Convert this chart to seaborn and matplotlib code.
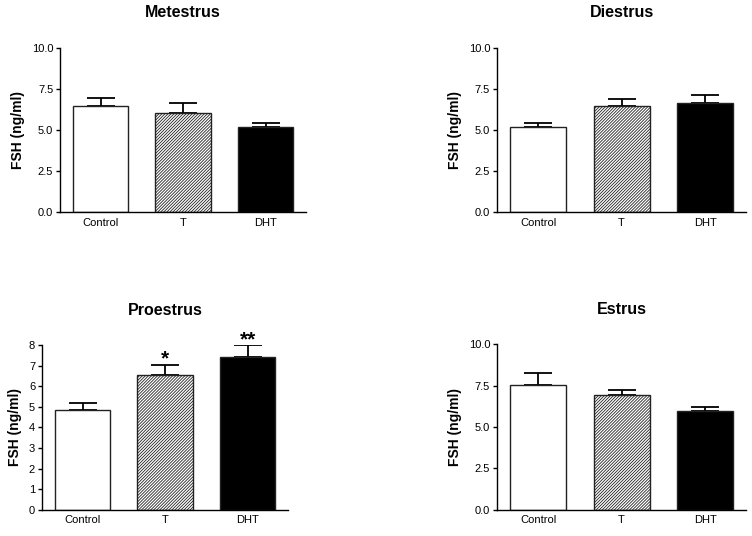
import numpy as np
import pandas as pd
import matplotlib
matplotlib.use("Agg")
import matplotlib.pyplot as plt
import seaborn as sns

# Values (mean and upper SEM)
groups = ["Control", "T", "DHT"]
metestrus_mean = [6.44, 6.05, 5.20]
metestrus_sem = [0.49, 0.57, 0.24]
diestrus_mean = [5.20, 6.44, 6.66]
diestrus_sem = [0.24, 0.43, 0.44]
proestrus_mean = [4.84, 6.53, 7.43]
proestrus_sem = [0.34, 0.53, 0.57]
proestrus_stars = ["", "*", "**"]
estrus_mean = [7.52, 6.92, 5.99]
estrus_sem = [0.73, 0.28, 0.24]

sns.set_style("ticks")
plt.rcParams["font.family"] = ["Liberation Sans", "DejaVu Sans"]
plt.rcParams["text.color"] = "black"
plt.rcParams["axes.labelcolor"] = "black"
plt.rcParams["xtick.color"] = "black"
plt.rcParams["ytick.color"] = "black"
plt.rcParams["hatch.linewidth"] = 0.6
plt.rcParams["hatch.color"] = "black"

fig = plt.figure(figsize=(7.52, 5.36), dpi=100)

panels = [
    ("Metestrus", metestrus_mean, metestrus_sem, None, [0.080, 0.604, 0.327, 0.307], "ten"),
    ("Diestrus", diestrus_mean, diestrus_sem, None, [0.661, 0.604, 0.331, 0.307], "ten"),
    ("Proestrus", proestrus_mean, proestrus_sem, proestrus_stars, [0.056, 0.049, 0.327, 0.307], "eight"),
    ("Estrus", estrus_mean, estrus_sem, None, [0.661, 0.049, 0.331, 0.309], "ten"),
]

colors = {"Control": "white", "T": "white", "DHT": "black"}

for title, mean, sem, stars, rect, scale in panels:
    ax = fig.add_axes(rect)
    df = pd.DataFrame({"group": groups, "FSH": mean})
    sns.barplot(data=df, x="group", y="FSH", hue="group", palette=colors,
                order=groups, width=0.67, edgecolor="#222222", linewidth=1.0,
                legend=False, ax=ax, zorder=2)
    for i, patch in enumerate(ax.patches):
        if groups[i] == "T":
            patch.set_hatch("/" * 11)
    x = np.arange(len(groups))
    ax.errorbar(x, mean, yerr=[np.zeros(len(mean)), sem], fmt="none",
                ecolor="black", elinewidth=1.3, capsize=10, capthick=1.3, zorder=1)
    if stars:
        for xi, m, s, st in zip(x, mean, sem, stars):
            if st:
                ax.annotate(st, (xi, m + s), xytext=(0, -3), textcoords="offset points",
                            ha="center", va="bottom", fontsize=15, fontweight="bold")
    if scale == "ten":
        ax.set_ylim(0, 10)
        ax.set_yticks([0, 2.5, 5.0, 7.5, 10.0])
        ax.set_yticklabels(["0.0", "2.5", "5.0", "7.5", "10.0"])
    else:
        ax.set_ylim(0, 8)
        ax.set_yticks(range(0, 9))
    ax.set_xlim(-0.49, 2.49)
    ax.set_title(title, fontsize=11.5, fontweight="bold", pad=22)
    ax.set_ylabel("FSH (ng/ml)", fontsize=10, fontweight="bold", labelpad=5)
    ax.set_xlabel("")
    ax.tick_params(axis="y", labelsize=8, length=3, width=1, pad=2)
    ax.tick_params(axis="x", labelsize=8, length=0, pad=4)
    sns.despine(ax=ax)
    for sp in ["left", "bottom"]:
        ax.spines[sp].set_linewidth(1.0)
        ax.spines[sp].set_color("black")

fig.savefig("out.png", dpi=100)
